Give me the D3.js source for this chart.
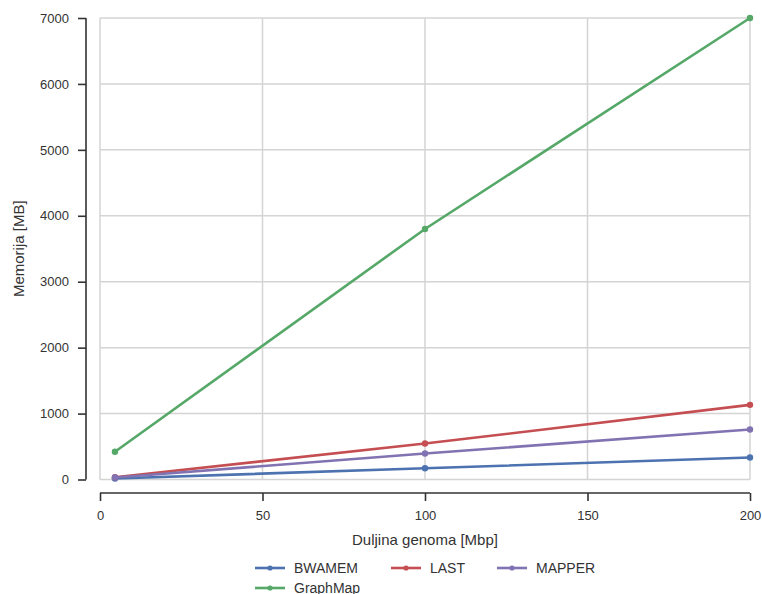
<!DOCTYPE html>
<html>
<head>
<meta charset="utf-8">
<script src="https://cdn.jsdelivr.net/npm/d3@7"></script>
<style>
  html, body { margin: 0; padding: 0; background: #fff; }
  svg { display: block; font-family: "Liberation Sans", Arial, sans-serif; }
</style>
</head>
<body>
<svg id="chart" width="762" height="594"></svg>
<script>
// Genome length (Mbp) and memory usage (MB) per mapper
const genomeLengths = [4.6, 100, 200];
const seriesNames = ["BWAMEM", "LAST", "MAPPER", "GraphMap"];
const bwamemValues = [15, 171, 333];
const lastValues = [35, 545, 1132];
const mapperValues = [30, 394, 758];
const graphmapValues = [420, 3800, 7000];
const xTicks = [0, 50, 100, 150, 200];
const yTicks = [0, 1000, 2000, 3000, 4000, 5000, 6000, 7000];
const colors = ["#4C72B0", "#C44E52", "#8172B2", "#55A868"];

const series = [bwamemValues, lastValues, mapperValues, graphmapValues].map((vals, i) => ({
  name: seriesNames[i],
  color: colors[i],
  points: vals.map((v, j) => ({ x: genomeLengths[j], y: v }))
}));

const svg = d3.select("#chart");
const plot = { left: 100, right: 750, top: 18, bottom: 479.5 };

const x = d3.scaleLinear().domain([0, 200]).range([plot.left, plot.right]);
const y = d3.scaleLinear().domain([0, 7000]).range([plot.bottom, plot.top]);

// Grid
const grid = svg.append("g");
grid.selectAll("line.v").data(xTicks).join("line")
  .attr("x1", d => x(d)).attr("x2", d => x(d))
  .attr("y1", plot.top).attr("y2", plot.bottom)
  .attr("stroke", "#d4d4d4").attr("stroke-width", 1.5);
grid.selectAll("line.h").data(yTicks).join("line")
  .attr("x1", plot.left).attr("x2", plot.right)
  .attr("y1", d => y(d)).attr("y2", d => y(d))
  .attr("stroke", "#d4d4d4").attr("stroke-width", 1.5);

// Offset spines
const axisColor = "#333";
const yAxis = svg.append("g")
  .attr("transform", `translate(86,0)`)
  .call(d3.axisLeft(y).tickValues(yTicks).tickFormat(d3.format("d")).tickSize(8).tickPadding(9));
const xAxis = svg.append("g")
  .attr("transform", `translate(0,493)`)
  .call(d3.axisBottom(x).tickValues(xTicks).tickFormat(d3.format("d")).tickSize(8).tickPadding(10));
[yAxis, xAxis].forEach(a => {
  a.select(".domain").attr("stroke", axisColor).attr("stroke-width", 1.6);
  a.selectAll(".tick line").attr("stroke", axisColor).attr("stroke-width", 1.6);
  a.selectAll(".tick text").attr("fill", "#333").style("font-size", "13px")
    .style("font-family", "'Liberation Sans', Arial, sans-serif");
});
// Spines without end caps
yAxis.select(".domain").attr("d", `M0,${y(7000)}V${y(0)}`);
xAxis.select(".domain").attr("d", `M${x(0)},0H${x(200)}`);

// Axis titles
svg.append("text")
  .attr("x", (plot.left + plot.right) / 2).attr("y", 545)
  .attr("text-anchor", "middle").attr("fill", "#333").style("font-size", "15px")
  .text("Duljina genoma [Mbp]");
svg.append("text")
  .attr("transform", `translate(24,${(plot.top + plot.bottom) / 2}) rotate(-90)`)
  .attr("text-anchor", "middle").attr("fill", "#333").style("font-size", "15px")
  .text("Memorija [MB]");

// Lines and markers
const line = d3.line().x(d => x(d.x)).y(d => y(d.y));
const marks = svg.append("g");
series.forEach(s => {
  marks.append("path").datum(s.points)
    .attr("d", line).attr("fill", "none")
    .attr("stroke", s.color).attr("stroke-width", 2.6).attr("stroke-linecap", "round");
  marks.selectAll(null).data(s.points).join("circle")
    .attr("cx", d => x(d.x)).attr("cy", d => y(d.y)).attr("r", 3.2)
    .attr("fill", s.color);
});

// Legend: three columns, wrapping
const legendCols = [255, 391, 497];
const legendRows = [568, 588];
const legend = svg.append("g");
series.forEach((s, i) => {
  const lx = legendCols[i % 3];
  const ly = legendRows[Math.floor(i / 3)];
  const g = legend.append("g").attr("transform", `translate(${lx},${ly})`);
  g.append("line").attr("x1", 0).attr("x2", 30).attr("y1", 0).attr("y2", 0)
    .attr("stroke", s.color).attr("stroke-width", 2.6);
  g.append("circle").attr("cx", 15).attr("cy", 0).attr("r", 2.6).attr("fill", s.color);
  g.append("text").attr("x", 39).attr("y", 5).attr("fill", "#333")
    .style("font-size", "14px").text(s.name);
});
</script>
</body>
</html>
